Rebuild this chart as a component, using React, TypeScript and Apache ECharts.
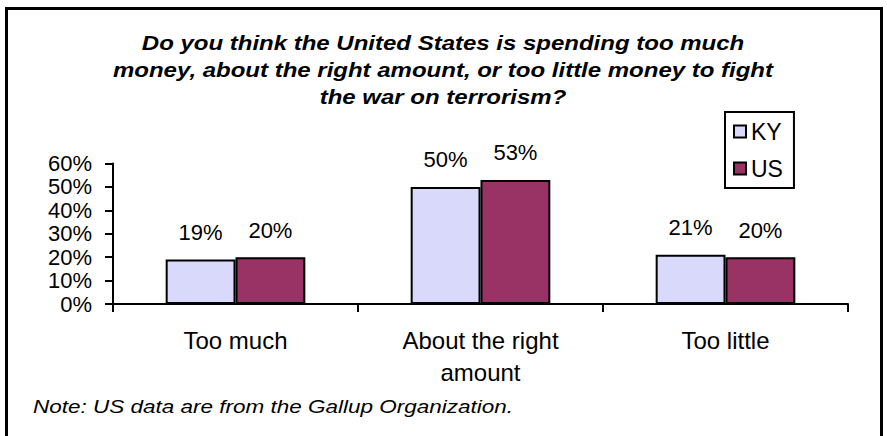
import React, { useEffect, useRef } from "react";
import * as echarts from "echarts";

const categories = ["Too much", "About the right\namount", "Too little"];
const kyValues = [19, 50, 21];
const usValues = [20, 53, 20];
const seriesNames = ["KY", "US"];
const titleText =
  "Do you think the United States is spending too much\nmoney, about the right amount, or too little money to fight\nthe war on terrorism?";
const noteText = "Note: US data are from the Gallup Organization.";

const FONT = "'Liberation Sans', Arial, sans-serif";

export default function App() {
  const ref = useRef<HTMLDivElement>(null);
  useEffect(() => {
    if (!ref.current) return;
    const chart = echarts.init(ref.current, null, { renderer: "svg" });
    const labelCfg = {
      show: true,
      position: "top",
      distance: 16,
      fontSize: 22,
      fontFamily: FONT,
      color: "#000",
      formatter: "{c}%",
    };
    chart.setOption({
      animation: false,
      backgroundColor: "#fff",
      textStyle: { fontFamily: FONT },
      grid: { left: 113, right: 39, top: 163.5, bottom: 132 },
      legend: {
        left: 725,
        top: 112,
        orient: "vertical",
        data: seriesNames,
        icon: "rect",
        itemWidth: 12,
        itemHeight: 12,
        itemGap: 14,
        padding: [8, 11, 8, 8],
        borderColor: "#000",
        borderWidth: 2,
        textStyle: { fontSize: 23, lineHeight: 22, color: "#000", fontFamily: FONT },
      },
      xAxis: {
        type: "category",
        data: categories,
        axisLine: { lineStyle: { color: "#000", width: 2 } },
        axisTick: { show: true, length: 8, lineStyle: { color: "#000", width: 2 } },
        axisLabel: {
          fontSize: 24,
          lineHeight: 32,
          margin: 20,
          color: "#000",
          fontFamily: FONT,
        },
      },
      yAxis: {
        type: "value",
        min: 0,
        max: 60,
        interval: 10,
        splitLine: { show: false },
        axisLine: { show: true, lineStyle: { color: "#000", width: 2 } },
        axisTick: { show: true, length: 8, lineStyle: { color: "#000", width: 2 } },
        axisLabel: {
          formatter: "{value}%",
          fontSize: 22,
          lineHeight: 22,
          margin: 21,
          color: "#000",
          fontFamily: FONT,
        },
      },
      series: [
        {
          name: seriesNames[0],
          type: "bar",
          data: kyValues,
          barGap: "0%",
          barCategoryGap: "43%",
          itemStyle: { color: "#D9D9FC", borderColor: "#000", borderWidth: 2 },
          label: labelCfg,
        },
        {
          name: seriesNames[1],
          type: "bar",
          data: usValues,
          barGap: "0%",
          barCategoryGap: "43%",
          itemStyle: { color: "#993366", borderColor: "#000", borderWidth: 2 },
          label: labelCfg,
        },
      ],
      graphic: [
        {
          type: "rect",
          shape: { x: 6.5, y: 8.5, width: 875, height: 440 },
          style: { fill: "none", stroke: "#000", lineWidth: 3 },
          silent: true,
        },
        {
          type: "text",
          x: 443,
          y: 29.5,
          scaleX: 1.2,
          style: {
            text: titleText,
            fontSize: 20,
            lineHeight: 27,
            fontWeight: "bold",
            fontStyle: "italic",
            fontFamily: FONT,
            fill: "#000",
            textAlign: "center",
            textVerticalAlign: "top",
          },
        },
        {
          type: "text",
          x: 33,
          y: 407,
          scaleX: 1.25,
          style: {
            text: noteText,
            fontSize: 18,
            fontStyle: "italic",
            fontFamily: FONT,
            fill: "#000",
            textAlign: "left",
            textVerticalAlign: "middle",
          },
        },
      ],
    });
    return () => chart.dispose();
  }, []);
  return <div ref={ref} style={{ width: 887, height: 436, position: "absolute", left: 0, top: 0 }} />;
}
